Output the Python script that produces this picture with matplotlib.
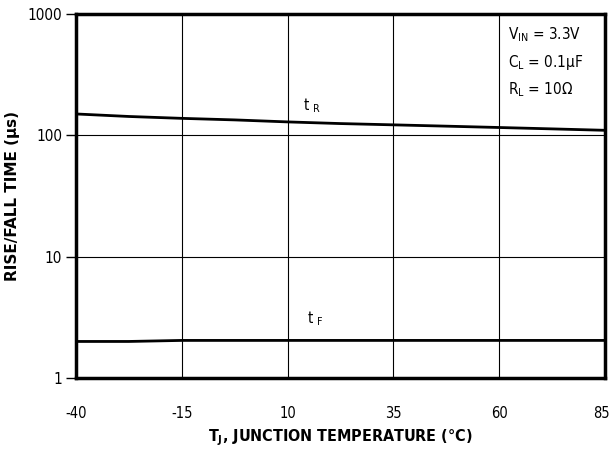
import matplotlib
matplotlib.use("Agg")
import matplotlib.pyplot as plt
from matplotlib.transforms import ScaledTranslation

plt.rcParams["font.family"] = ["DejaVu Sans"]
plt.rcParams["font.stretch"] = "condensed"

temps = [-40, -27.5, -15, -2.5, 10, 22.5, 35, 47.5, 60, 72.5, 85]
rise_time = [150, 143, 138, 134, 129, 125, 122, 119, 116, 113, 110]
fall_time = [2.0, 2.0, 2.04, 2.04, 2.04, 2.04, 2.04, 2.04, 2.04, 2.04, 2.04]

x_ticks = [-40, -15, 10, 35, 60, 85]
y_ticks = [1, 10, 100, 1000]

fig = plt.figure(figsize=(6.11, 4.53), dpi=100)
ax = fig.add_axes([0.1244, 0.1656, 0.8658, 0.8035])

ax.plot(temps, rise_time, color="black", linewidth=2)
ax.plot(temps, fall_time, color="black", linewidth=2)

ax.set_yscale("log")
ax.set_xlim(-40, 85)
ax.set_ylim(1, 1000)
ax.set_xticks(x_ticks)
ax.set_xticklabels([str(t) for t in x_ticks])
ax.set_yticks(y_ticks)
ax.set_yticklabels([str(t) for t in y_ticks])
ax.minorticks_off()
ax.grid(True, color="black", linewidth=0.8)

for spine in ax.spines.values():
    spine.set_linewidth(2.5)
ax.tick_params(axis="x", labelsize=10.5, length=0, pad=20)
ax.tick_params(axis="y", labelsize=11, length=7, width=1, pad=3)

# nudge the last x label so it stays inside the figure
last = ax.get_xticklabels()[-1]
last.set_transform(last.get_transform() + ScaledTranslation(-4 / 100, 0, fig.dpi_scale_trans))

ax.set_xlabel("T$_\\mathregular{J}$, JUNCTION TEMPERATURE (°C)", fontsize=11.5, fontweight="bold", labelpad=5)
ax.set_ylabel("RISE/FALL TIME (µs)", fontsize=11, fontweight="bold", fontstretch="normal")
# centre the y label about 20 px from the left edge, as in the reference
ax.yaxis.set_label_coords(-0.106, 0.5)

ax.text(13.6, 177, "t $_\\mathregular{R}$", fontsize=11, va="center")
ax.text(14.6, 3.1, "t $_\\mathregular{F}$", fontsize=11, va="center")

ax.text(62, 671, "V$_\\mathregular{IN}$ = 3.3V", fontsize=11, va="center")
ax.text(62, 402, "C$_\\mathregular{L}$ = 0.1µF", fontsize=11, va="center")
ax.text(62, 236, "R$_\\mathregular{L}$ = 10Ω", fontsize=11, va="center")

fig.savefig("out.png", dpi=100)
